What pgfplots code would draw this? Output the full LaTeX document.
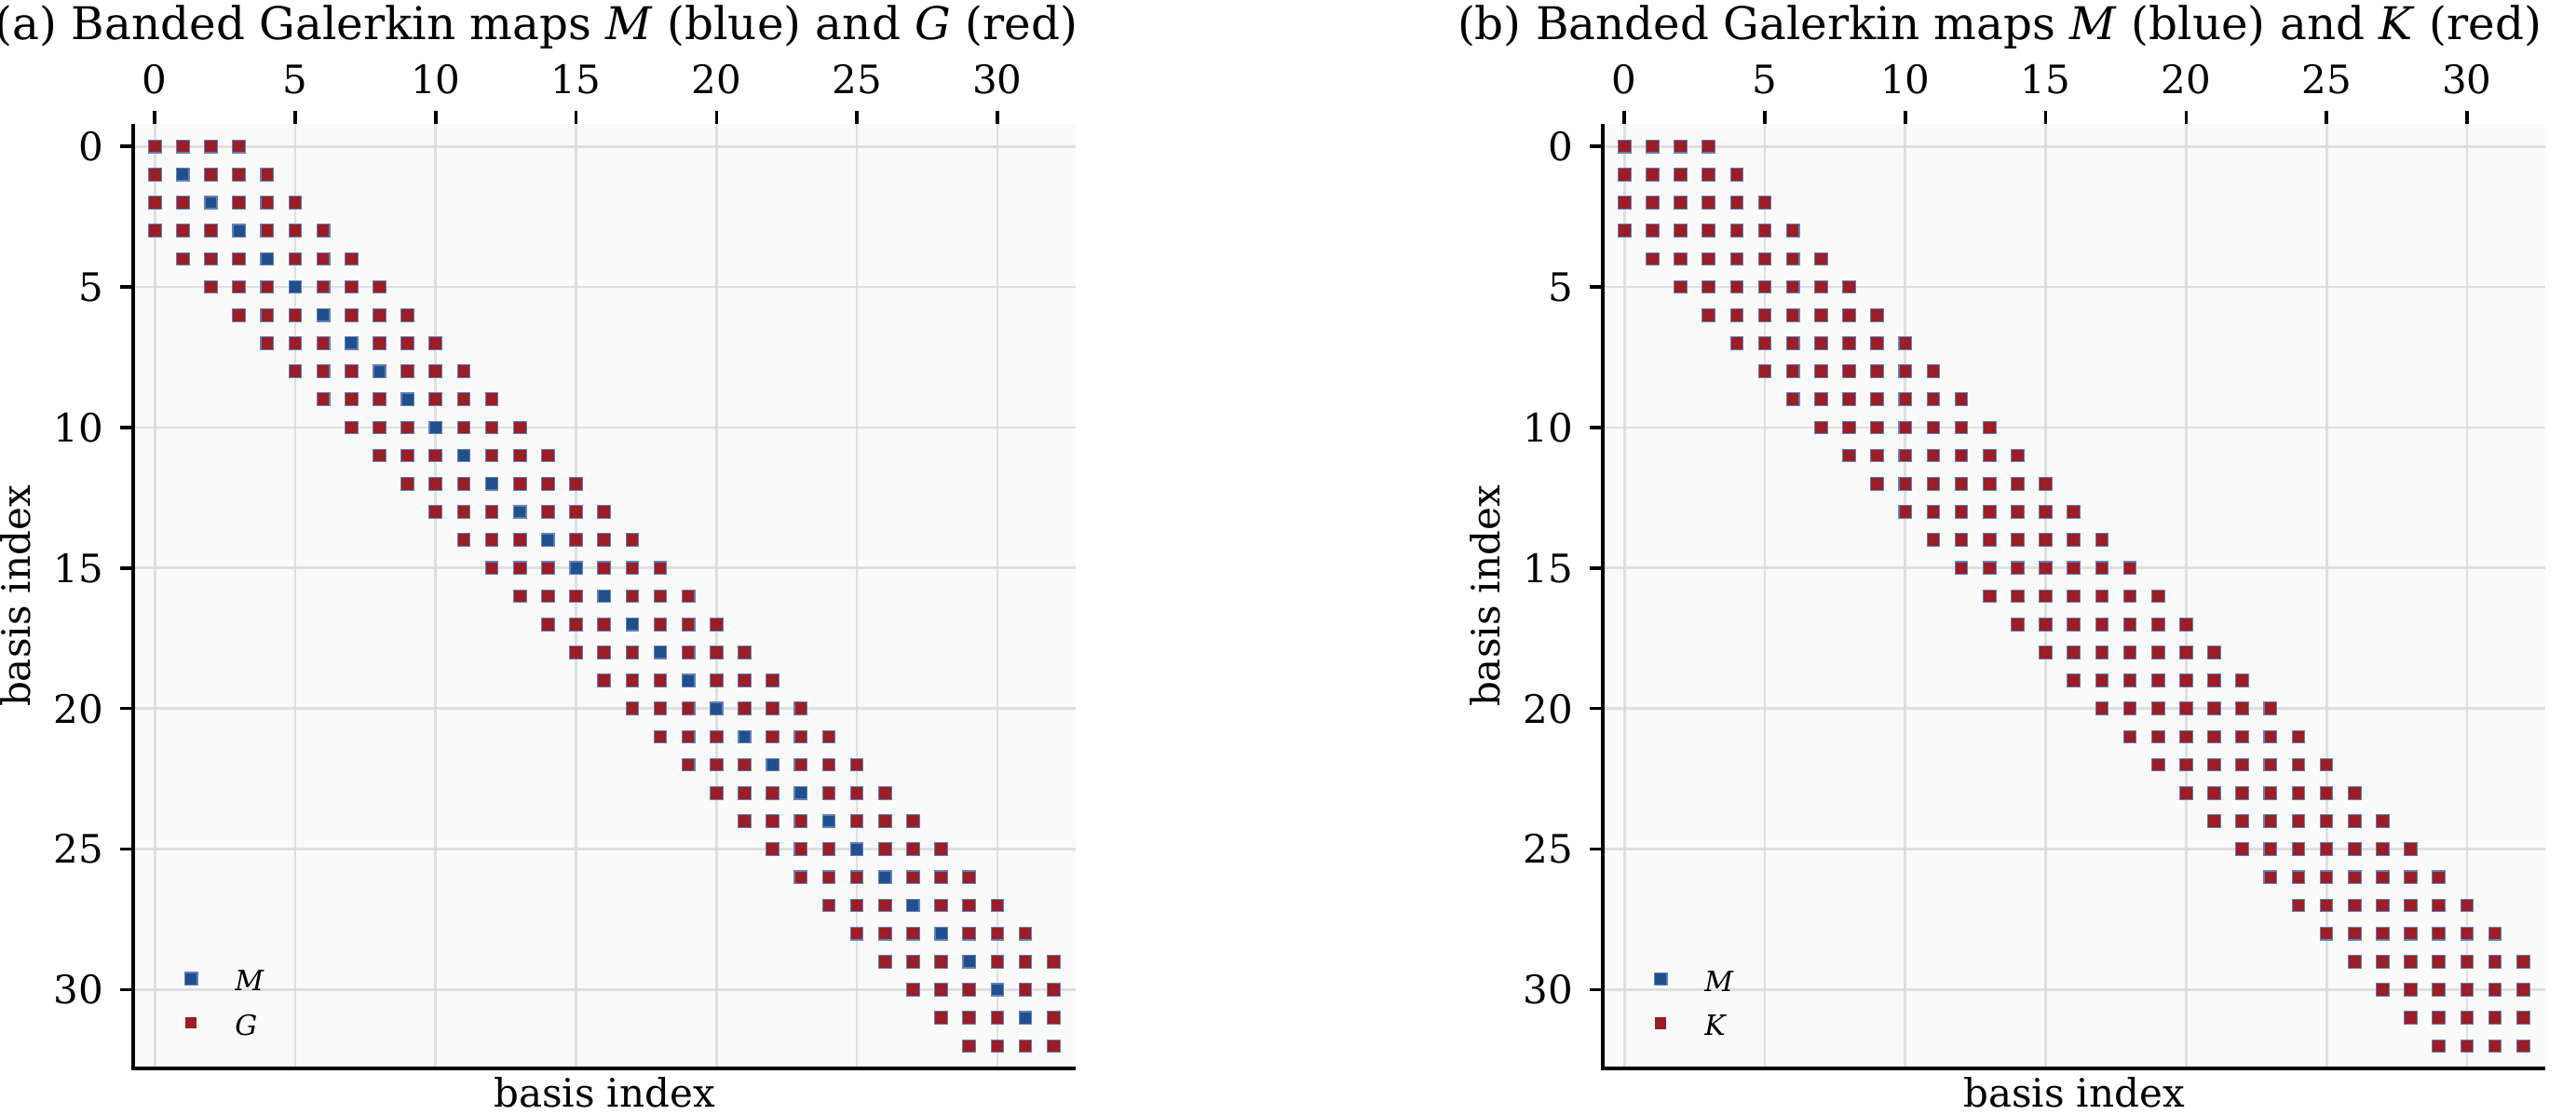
\documentclass[border=0pt]{standalone}
\usepackage{fontspec}
\setmainfont{DejaVu Serif}
\usepackage{pgfplots}
\usepackage{pgfplotstable}
\pgfplotsset{compat=1.18}
\definecolor{bluec}{RGB}{33,79,141}
\definecolor{blueedge}{RGB}{95,130,185}
\definecolor{redc}{RGB}{155,29,38}
\definecolor{gridc}{RGB}{215,215,215}
\definecolor{bgc}{RGB}{250,250,250}

% band pattern of M (and K): entries with |i-j|<=3, x = column, y = row
\pgfplotstableread[row sep=\\]{
x y\\
0 0\\1 0\\2 0\\3 0\\
0 1\\1 1\\2 1\\3 1\\4 1\\
0 2\\1 2\\2 2\\3 2\\4 2\\5 2\\
0 3\\1 3\\2 3\\3 3\\4 3\\5 3\\6 3\\
1 4\\2 4\\3 4\\4 4\\5 4\\6 4\\7 4\\
2 5\\3 5\\4 5\\5 5\\6 5\\7 5\\8 5\\
3 6\\4 6\\5 6\\6 6\\7 6\\8 6\\9 6\\
4 7\\5 7\\6 7\\7 7\\8 7\\9 7\\10 7\\
5 8\\6 8\\7 8\\8 8\\9 8\\10 8\\11 8\\
6 9\\7 9\\8 9\\9 9\\10 9\\11 9\\12 9\\
7 10\\8 10\\9 10\\10 10\\11 10\\12 10\\13 10\\
8 11\\9 11\\10 11\\11 11\\12 11\\13 11\\14 11\\
9 12\\10 12\\11 12\\12 12\\13 12\\14 12\\15 12\\
10 13\\11 13\\12 13\\13 13\\14 13\\15 13\\16 13\\
11 14\\12 14\\13 14\\14 14\\15 14\\16 14\\17 14\\
12 15\\13 15\\14 15\\15 15\\16 15\\17 15\\18 15\\
13 16\\14 16\\15 16\\16 16\\17 16\\18 16\\19 16\\
14 17\\15 17\\16 17\\17 17\\18 17\\19 17\\20 17\\
15 18\\16 18\\17 18\\18 18\\19 18\\20 18\\21 18\\
16 19\\17 19\\18 19\\19 19\\20 19\\21 19\\22 19\\
17 20\\18 20\\19 20\\20 20\\21 20\\22 20\\23 20\\
18 21\\19 21\\20 21\\21 21\\22 21\\23 21\\24 21\\
19 22\\20 22\\21 22\\22 22\\23 22\\24 22\\25 22\\
20 23\\21 23\\22 23\\23 23\\24 23\\25 23\\26 23\\
21 24\\22 24\\23 24\\24 24\\25 24\\26 24\\27 24\\
22 25\\23 25\\24 25\\25 25\\26 25\\27 25\\28 25\\
23 26\\24 26\\25 26\\26 26\\27 26\\28 26\\29 26\\
24 27\\25 27\\26 27\\27 27\\28 27\\29 27\\30 27\\
25 28\\26 28\\27 28\\28 28\\29 28\\30 28\\31 28\\
26 29\\27 29\\28 29\\29 29\\30 29\\31 29\\32 29\\
27 30\\28 30\\29 30\\30 30\\31 30\\32 30\\
28 31\\29 31\\30 31\\31 31\\32 31\\
29 32\\30 32\\31 32\\32 32\\
}\bandM

% pattern of G: band without the diagonal, except the two corner entries
\pgfplotstableread[row sep=\\]{
x y\\
0 0\\1 0\\2 0\\3 0\\
0 1\\2 1\\3 1\\4 1\\
0 2\\1 2\\3 2\\4 2\\5 2\\
0 3\\1 3\\2 3\\4 3\\5 3\\6 3\\
1 4\\2 4\\3 4\\5 4\\6 4\\7 4\\
2 5\\3 5\\4 5\\6 5\\7 5\\8 5\\
3 6\\4 6\\5 6\\7 6\\8 6\\9 6\\
4 7\\5 7\\6 7\\8 7\\9 7\\10 7\\
5 8\\6 8\\7 8\\9 8\\10 8\\11 8\\
6 9\\7 9\\8 9\\10 9\\11 9\\12 9\\
7 10\\8 10\\9 10\\11 10\\12 10\\13 10\\
8 11\\9 11\\10 11\\12 11\\13 11\\14 11\\
9 12\\10 12\\11 12\\13 12\\14 12\\15 12\\
10 13\\11 13\\12 13\\14 13\\15 13\\16 13\\
11 14\\12 14\\13 14\\15 14\\16 14\\17 14\\
12 15\\13 15\\14 15\\16 15\\17 15\\18 15\\
13 16\\14 16\\15 16\\17 16\\18 16\\19 16\\
14 17\\15 17\\16 17\\18 17\\19 17\\20 17\\
15 18\\16 18\\17 18\\19 18\\20 18\\21 18\\
16 19\\17 19\\18 19\\20 19\\21 19\\22 19\\
17 20\\18 20\\19 20\\21 20\\22 20\\23 20\\
18 21\\19 21\\20 21\\22 21\\23 21\\24 21\\
19 22\\20 22\\21 22\\23 22\\24 22\\25 22\\
20 23\\21 23\\22 23\\24 23\\25 23\\26 23\\
21 24\\22 24\\23 24\\25 24\\26 24\\27 24\\
22 25\\23 25\\24 25\\26 25\\27 25\\28 25\\
23 26\\24 26\\25 26\\27 26\\28 26\\29 26\\
24 27\\25 27\\26 27\\28 27\\29 27\\30 27\\
25 28\\26 28\\27 28\\29 28\\30 28\\31 28\\
26 29\\27 29\\28 29\\30 29\\31 29\\32 29\\
27 30\\28 30\\29 30\\31 30\\32 30\\
28 31\\29 31\\30 31\\32 31\\
29 32\\30 32\\31 32\\32 32\\
}\bandG

\pgfplotsset{
  spystyle/.style={
    scale only axis, width=202.4pt, height=202.8pt,
    xmin=-0.77, xmax=32.79, ymin=-0.8, ymax=32.8, y dir=reverse,
    xtick={0,5,...,30}, ytick={0,5,...,30},
    xtick pos=right, xticklabel pos=right, ytick pos=left,
    tick align=outside, major tick length=2.8pt,
    major tick style={black, line width=0.7pt},
    axis line style={draw=none},
    grid=major, major grid style={gridc, opacity=0.75, line width=0.55pt},
    axis on top,
    axis background/.style={fill=bgc},
    /pgf/number format/assume math mode=true,
    ticklabel style={font=\fontsize{8.4}{10}\selectfont},
    label style={font=\fontsize{8.4}{10}\selectfont},
    xlabel={basis index},
    xlabel style={at={(axis description cs:0.5,-0.0256)}, anchor=center},
    ylabel={basis index},
    ylabel style={at={(axis description cs:-0.1245,0.5)}, anchor=center},
    legend style={draw=none, fill=none, inner sep=0pt, outer sep=0pt,
      at={(axis description cs:0,0)}, anchor=south west,
      xshift=11.1pt, yshift=3.6pt, row sep=-0.4pt, column sep=6.1pt,
      font=\fontsize{6}{7}\selectfont},
    legend cell align=left,
    legend image code/.code={\draw[mark repeat=2,mark phase=2,#1] plot coordinates {(0pt,1.2pt)(5pt,1.2pt)(10pt,1.2pt)};},
    after end axis/.code={\draw[line width=0.7pt, black] (axis description cs:0,1) -- (axis description cs:0,0) -- (axis description cs:1,0);},
  },
  Mstyle/.style={only marks, color=bluec, mark=square*, mark size=1.33pt,
    mark options={fill=bluec, draw=blueedge, line width=0.28pt}},
  Rstyle/.style={only marks, color=redc, mark=square*, mark size=1.16pt,
    mark options={fill=redc, draw=redc, line width=0pt}},
}

\begin{document}
\begin{tikzpicture}
\path[use as bounding box] (0pt,0pt) rectangle (553.2pt,239.2pt);

\begin{axis}[spystyle, at={(28.6pt,9.8pt)}, anchor=south west]
\addplot[Mstyle] table[x=x,y=y]{\bandM};
\addlegendentry{\textit{M}}
\addplot[Rstyle] table[x=x,y=y]{\bandG};
\addlegendentry{\textit{G}}
\end{axis}

\begin{axis}[spystyle, at={(344.2pt,9.8pt)}, anchor=south west]
\addplot[Mstyle] table[x=x,y=y]{\bandM};
\addlegendentry{\textit{M}}
\addplot[Rstyle] table[x=x,y=y]{\bandM};
\addlegendentry{\textit{K}}
\end{axis}

\node[anchor=base, font=\fontsize{9.68}{11}\selectfont] at (115.2pt,230.8pt) {(a) Banded Galerkin maps \textit{M} (blue) and \textit{G} (red)};
\node[anchor=base, font=\fontsize{9.68}{11}\selectfont] at (429.4pt,230.8pt) {(b) Banded Galerkin maps \textit{M} (blue) and \textit{K} (red)};
\end{tikzpicture}
\end{document}
